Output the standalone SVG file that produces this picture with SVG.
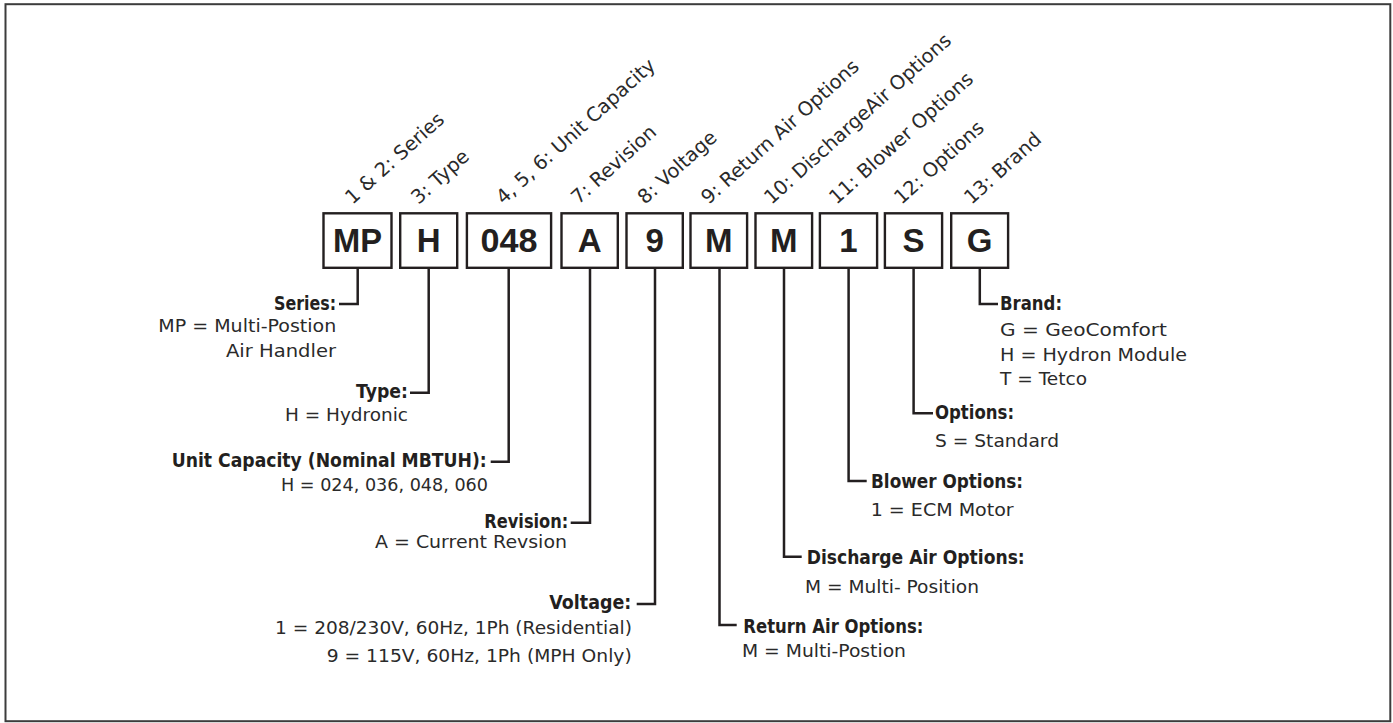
<svg xmlns="http://www.w3.org/2000/svg" width="1393" height="723" viewBox="0 0 1393 723">
<style>
  .frame{fill:#fff;stroke:#3c3c3c;stroke-width:2}
  .box{fill:#fff;stroke:#231f20;stroke-width:2.4}
  .code{font-family:"Liberation Sans",Arial,sans-serif;font-weight:bold;font-size:33px;fill:#231f20;text-anchor:middle}
  .pos{font-family:"DejaVu Sans","Liberation Sans",sans-serif;font-size:19.5px;fill:#2a2a2a}
  .lbl{font-family:"DejaVu Sans","Liberation Sans",sans-serif;font-weight:bold;font-size:19.5px;fill:#231f20}
  .val{font-family:"DejaVu Sans","Liberation Sans",sans-serif;font-size:18.3px;fill:#2a2a2a}
  .conn{fill:none;stroke:#231f20;stroke-width:2.5;stroke-linejoin:miter}
</style>
<rect class="frame" x="5.5" y="4.2" width="1384.8" height="717"/>

<g id="connectors">
  <polyline class="conn" points="357.7,268 357.7,304 339,304"/>
  <polyline class="conn" points="428.7,268 428.7,392.7 410,392.7"/>
  <polyline class="conn" points="508.7,268 508.7,461.7 490.7,461.7"/>
  <polyline class="conn" points="590,268 590,522.7 570.7,522.7"/>
  <polyline class="conn" points="655,268 655,604 636.7,604"/>
  <polyline class="conn" points="719.5,268 719.5,625 736.7,625"/>
  <polyline class="conn" points="784,268 784,556.7 801.7,556.7"/>
  <polyline class="conn" points="848.6,268 848.6,481 866.7,481"/>
  <polyline class="conn" points="913.6,268 913.6,413.3 933,413.3"/>
  <polyline class="conn" points="979.8,268 979.8,304 998,304"/>
</g>

<g id="node-series">
  <rect class="box" x="323.5" y="213.3" width="68" height="54.5"/>
  <text class="code" x="357.5" y="252" textLength="49" lengthAdjust="spacingAndGlyphs">MP</text>
  <text class="pos" transform="translate(352.5,205) rotate(-42)">1 &amp; 2: Series</text>
  <text class="lbl" x="274" y="310" textLength="62" lengthAdjust="spacingAndGlyphs">Series:</text>
  <text class="val" x="158.3" y="331.5" textLength="178" lengthAdjust="spacingAndGlyphs">MP = Multi-Postion</text>
  <text class="val" x="226" y="356.5" textLength="110" lengthAdjust="spacingAndGlyphs">Air Handler</text>
</g>

<g id="node-type">
  <rect class="box" x="400.2" y="213.3" width="57" height="54.5"/>
  <text class="code" x="428.7" y="252">H</text>
  <text class="pos" transform="translate(418.5,205) rotate(-42)">3: Type</text>
  <text class="lbl" x="356" y="398" textLength="52" lengthAdjust="spacingAndGlyphs">Type:</text>
  <text class="val" x="285" y="421" textLength="123" lengthAdjust="spacingAndGlyphs">H = Hydronic</text>
</g>

<g id="node-capacity">
  <rect class="box" x="466.9" y="213.3" width="84.2" height="54.5"/>
  <text class="code" x="509" y="252" textLength="57" lengthAdjust="spacingAndGlyphs">048</text>
  <text class="pos" transform="translate(503.5,205) rotate(-42)">4, 5, 6: Unit Capacity</text>
  <text class="lbl" x="171.7" y="466.5" textLength="315" lengthAdjust="spacingAndGlyphs">Unit Capacity (Nominal MBTUH):</text>
  <text class="val" x="281" y="491" textLength="207" lengthAdjust="spacingAndGlyphs">H = 024, 036, 048, 060</text>
</g>

<g id="node-revision">
  <rect class="box" x="561.5" y="213.3" width="56.3" height="54.5"/>
  <text class="code" x="589.7" y="252">A</text>
  <text class="pos" transform="translate(578.5,205) rotate(-42)">7: Revision</text>
  <text class="lbl" x="484.3" y="527.5" textLength="84" lengthAdjust="spacingAndGlyphs">Revision:</text>
  <text class="val" x="375" y="548" textLength="192" lengthAdjust="spacingAndGlyphs">A = Current Revsion</text>
</g>

<g id="node-voltage">
  <rect class="box" x="626.5" y="213.3" width="56.3" height="54.5"/>
  <text class="code" x="654.7" y="252">9</text>
  <text class="pos" transform="translate(645,205) rotate(-42)">8: Voltage</text>
  <text class="lbl" x="549.3" y="608.5" textLength="82" lengthAdjust="spacingAndGlyphs">Voltage:</text>
  <text class="val" x="275" y="634" textLength="357" lengthAdjust="spacingAndGlyphs">1 = 208/230V, 60Hz, 1Ph (Residential)</text>
  <text class="val" x="326.7" y="661.5" textLength="305" lengthAdjust="spacingAndGlyphs">9 = 115V, 60Hz, 1Ph (MPH Only)</text>
</g>

<g id="node-return-air">
  <rect class="box" x="690.5" y="213.3" width="56.6" height="54.5"/>
  <text class="code" x="718.8" y="252">M</text>
  <text class="pos" transform="translate(708.5,205) rotate(-42)">9: Return Air Options</text>
  <text class="lbl" x="743.3" y="633" textLength="180" lengthAdjust="spacingAndGlyphs">Return Air Options:</text>
  <text class="val" x="742" y="657" textLength="164" lengthAdjust="spacingAndGlyphs">M = Multi-Postion</text>
</g>

<g id="node-discharge-air">
  <rect class="box" x="755.5" y="213.3" width="56.6" height="54.5"/>
  <text class="code" x="783.8" y="252">M</text>
  <text class="pos" transform="translate(771.5,205) rotate(-42)">10: DischargeAir Options</text>
  <text class="lbl" x="806.7" y="564" textLength="218" lengthAdjust="spacingAndGlyphs">Discharge Air Options:</text>
  <text class="val" x="805" y="593" textLength="174" lengthAdjust="spacingAndGlyphs">M = Multi- Position</text>
</g>

<g id="node-blower">
  <rect class="box" x="819.9" y="213.3" width="57.2" height="54.5"/>
  <text class="code" x="848.5" y="252">1</text>
  <text class="pos" transform="translate(836.5,205) rotate(-42)">11: Blower Options</text>
  <text class="lbl" x="871" y="487.5" textLength="152" lengthAdjust="spacingAndGlyphs">Blower Options:</text>
  <text class="val" x="870.7" y="516" textLength="143" lengthAdjust="spacingAndGlyphs">1 = ECM Motor</text>
</g>

<g id="node-options">
  <rect class="box" x="884.9" y="213.3" width="57.2" height="54.5"/>
  <text class="code" x="913.5" y="252">S</text>
  <text class="pos" transform="translate(901.5,205) rotate(-42)">12: Options</text>
  <text class="lbl" x="935" y="419" textLength="79" lengthAdjust="spacingAndGlyphs">Options:</text>
  <text class="val" x="935" y="446.5" textLength="124" lengthAdjust="spacingAndGlyphs">S = Standard</text>
</g>

<g id="node-brand">
  <rect class="box" x="951.2" y="213.3" width="56.9" height="54.5"/>
  <text class="code" x="979.7" y="252">G</text>
  <text class="pos" transform="translate(971.5,205) rotate(-42)">13: Brand</text>
  <text class="lbl" x="1000" y="310" textLength="62" lengthAdjust="spacingAndGlyphs">Brand:</text>
  <text class="val" x="1000" y="335.5" textLength="167" lengthAdjust="spacingAndGlyphs">G = GeoComfort</text>
  <text class="val" x="1000" y="361" textLength="187" lengthAdjust="spacingAndGlyphs">H = Hydron Module</text>
  <text class="val" x="1000" y="385" textLength="87" lengthAdjust="spacingAndGlyphs">T = Tetco</text>
</g>
</svg>
